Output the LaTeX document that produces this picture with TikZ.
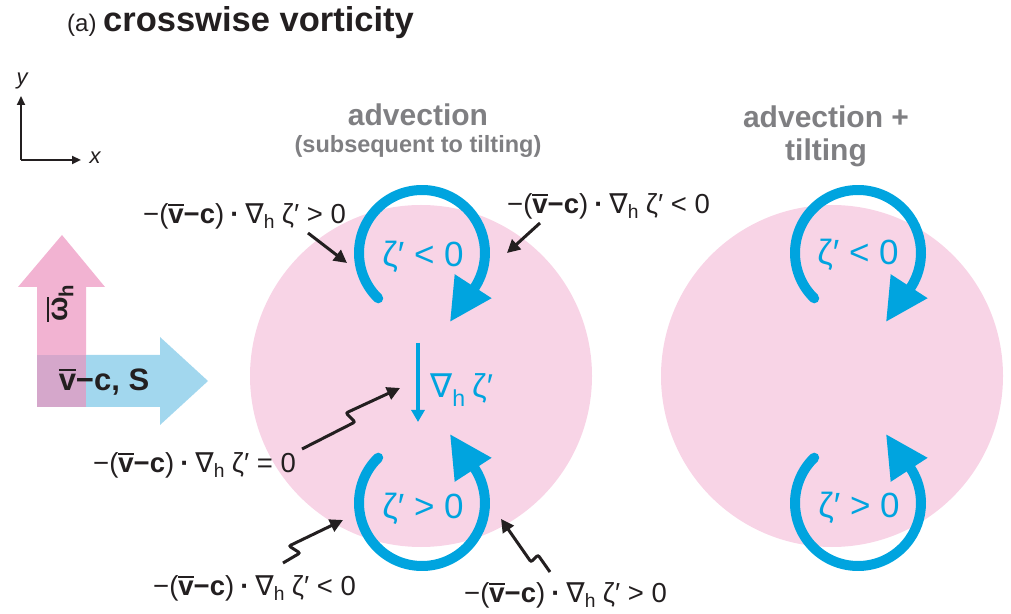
\documentclass[tikz,border=0pt]{standalone}
\usepackage{fontspec}
\setmainfont{Liberation Sans}
\newfontfamily\dvfont{DejaVu Sans}
\usetikzlibrary{arrows.meta}
\definecolor{cpink}{HTML}{F8D4E6}
\definecolor{apink}{HTML}{F2B3D2}
\definecolor{ablue}{HTML}{A2D7EE}
\definecolor{amix}{HTML}{D5A7CB}
\definecolor{vblue}{HTML}{00A4DF}
\definecolor{hgray}{HTML}{7F7F82}
\definecolor{txt}{HTML}{231F20}
\newcommand\barred[1]{\leavevmode\setbox0\hbox{#1}\rlap{\raisebox{\dimexpr\ht0+0.10em\relax}{\rule{\wd0}{0.075em}}}\box0}
\newcommand\gradh{{\dvfont ∇}\textsubscript{h}}
\newcommand\adv[1]{−(\barred{\bfseries v}\textbf{−c})\hspace{0.22em}\textbf{·}\hspace{0.22em}\gradh\hspace{0.25em}ζ′\hspace{0.28em}#1}
\tikzset{
  lab/.style={text=txt,inner sep=0pt,font=\fontsize{27.5}{32}\selectfont},
  vlab/.style={text=vblue,inner sep=0pt,font=\fontsize{35}{40}\selectfont},
  head/.style={text=hgray,inner sep=0pt,font=\bfseries\fontsize{30}{34}\selectfont},
  leader/.style={draw=txt,line width=3pt,rounded corners=2pt,-{Triangle[length=13pt,width=13pt]}},
  axisline/.style={draw=txt,line width=2.2pt,-{Triangle[length=9pt,width=8pt]}},
  vortex/.pic={
    \draw[vblue,line width=10pt,line cap=round] (226:63) arc[start angle=226,end angle=-38,radius=63];
    \fill[vblue] (32.7,-21.2) -- (69.6,-45.2) -- (28.3,-68.4) -- cycle;
  }
}
\begin{document}
\begin{tikzpicture}[x=1pt,y=1pt]
\useasboundingbox (0,0) rectangle (1011,613);
% title
\node[anchor=base west,inner sep=0pt,text=txt] (title) at (67,581)
  {\fontsize{24}{28}\selectfont (a) \fontsize{34.5}{38}\selectfont\bfseries crosswise vorticity};
% axes
\coordinate (o) at (21,453);
\coordinate (ytip) at (21,517);
\coordinate (xtip) at (81,453);
\draw[axisline] (o) -- (ytip);
\draw[axisline] (o) -- (xtip);
\node[text=txt,font=\itshape\fontsize{22}{26}\selectfont,inner sep=0pt] (ylab) at (22,532) {y};
\node[text=txt,font=\itshape\fontsize{22}{26}\selectfont,inner sep=0pt] (xlab) at (95,455) {x};
% big arrows
\fill[apink] (37,206) -- (37,326) -- (18,326) -- (62,378) -- (105,326) -- (86,326) -- (86,206) -- cycle;
\fill[ablue] (86,206) -- (86,258) -- (160,258) -- (160,276) -- (208,232) -- (160,188) -- (160,206) -- cycle;
\fill[amix] (37,206) rectangle (86,258);
\node[text=txt,inner sep=0pt,font=\bfseries\fontsize{31}{35}\selectfont] (vc) at (104,231) {\barred{v}−c, S};
\node[text=txt,inner sep=0pt,rotate=90,font=\bfseries\fontsize{29}{33}\selectfont] (omega) at (60,310) {\barred{ω}\textsubscript{h}};
% circles
\fill[cpink] (421,237) circle[radius=171];
\fill[cpink] (832,237) circle[radius=171];
% headings
\node[head] (h1) at (418,498) {advection};
\node[head,font=\bfseries\fontsize{23.5}{28}\selectfont] (h1b) at (418,467) {(subsequent to tilting)};
\node[head] (h2) at (826,496) {advection +};
\node[head] (h2b) at (826,460) {tilting};
% vortices
\pic at (422,360) {vortex};
\pic[yscale=-1] at (422,110) {vortex};
\pic at (858,360) {vortex};
\pic[yscale=-1] at (858,110) {vortex};
\node[vlab] (z1) at (423,356) {ζ′ < 0};
\node[vlab] (z2) at (423,104) {ζ′ > 0};
\node[vlab] (z3) at (858,358) {ζ′ < 0};
\node[vlab] (z4) at (859,105) {ζ′ > 0};
% gradient
\coordinate (g1) at (418,270);
\coordinate (g2) at (418,191);
\draw[vblue,line width=3.5pt,-{Triangle[length=12pt,width=13pt]}] (g1) -- (g2);
\node[vlab,anchor=west,font=\fontsize{33}{37}\selectfont] (gl) at (430,223) {\gradh\hspace{0.2em}ζ′};
% black labels
\node[lab,anchor=west] (tl) at (143,397) {\adv{> 0}};
\node[lab,anchor=west] (tr) at (507,407) {\adv{< 0}};
\node[lab,anchor=west] (eq) at (93,148) {\adv{= 0}};
\node[lab,anchor=west] (bl) at (153,25) {\adv{< 0}};
\node[lab,anchor=west] (br) at (464,18) {\adv{> 0}};
% leaders
\coordinate (tl0) at (308,380); \coordinate (tl1) at (347,350);
\coordinate (tr0) at (540,390); \coordinate (tr1) at (507,360);
\coordinate (eq0) at (302,164); \coordinate (eq1) at (400,225);
\coordinate (bl0) at (283,50);  \coordinate (bl1) at (343,93);
\coordinate (br0) at (550,41);  \coordinate (br1) at (501,94);
\draw[leader] (tl0) -- (tl1);
\draw[leader] (tr0) -- (tr1);
\draw[leader] (eq0) -- (355,191) -- (346,200) -- (eq1);
\draw[leader] (bl0) -- (300,60) -- (289,67) -- (bl1);
\draw[leader] (br0) -- (538,58) -- (531,51) -- (br1);
\end{tikzpicture}
\end{document}
